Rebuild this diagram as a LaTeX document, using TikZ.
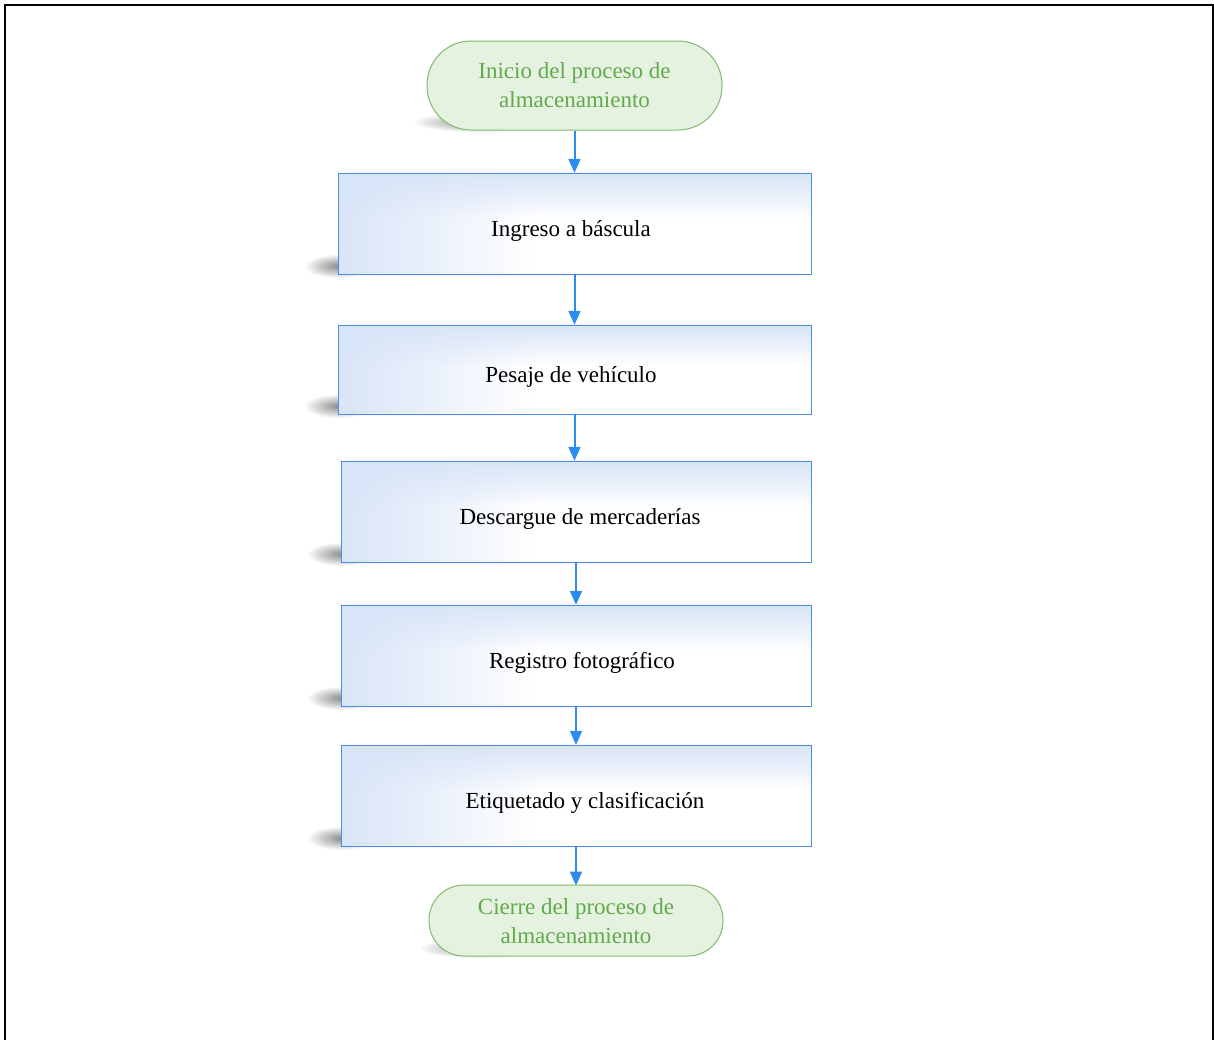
\documentclass[tikz,border=0pt]{standalone}
\usepackage{fontspec}
\setmainfont{Liberation Serif}
\usetikzlibrary{arrows.meta,fadings}
\definecolor{boxline}{RGB}{74,142,228}
\definecolor{boxblue}{RGB}{216,228,248}
\definecolor{arrowblue}{RGB}{42,140,236}
\definecolor{termfill}{RGB}{230,242,224}
\definecolor{termline}{RGB}{128,186,108}
\definecolor{termtext}{RGB}{98,170,78}
\tikzset{
  procfade/.style={fill=boxblue, path fading=south},
  termbox/.style={draw=termline, line width=1pt, fill=termfill, inner sep=0pt,
    text=termtext, align=center, font=\fontsize{23}{29}\selectfont},
  txt/.style={font=\fontsize{23}{29}\selectfont, text=black, inner sep=0pt},
  flow/.style={draw=arrowblue, line width=2pt, -{Triangle[width=12pt,length=14pt]}},
  shad/.style={inner color=black!45, outer color=white},
}
\begin{document}
\begin{tikzpicture}[x=1pt,y=-1pt]
\useasboundingbox (0,0) rectangle (1214,1039);
\fill[white] (0,0) rectangle (1214,1039);
% frame
\draw[line width=2pt] (5,1040) -- (5,5) -- (1213,5) -- (1213,1040);

% shadows
\shade[shad] (478,122) ellipse (66 and 10);
\shade[shad] (480,948) ellipse (62 and 10);
\foreach \y/\x in {266/338, 406/338, 554/341, 698/341, 838/341}{
  \shade[shad] (\x,\y) ellipse (34 and 12);
}

% terminals
\path[termbox, rounded corners=44pt] (427,41) rectangle (722,130);
\node[termbox, draw=none, fill=none, minimum width=295pt, minimum height=89pt] (t1) at (574.5,85.5) {Inicio del proceso de\\almacenamiento};
\path[termbox, rounded corners=35pt] (429,885) rectangle (723,956);
\node[termbox, draw=none, fill=none, minimum width=294pt, minimum height=71pt] (t2) at (576,921.5) {Cierre del proceso de\\almacenamiento};

% process boxes
\foreach \n/\xa/\ya/\xb/\yb in {b1/338/173/811/274, b2/338/325/811/414, b3/341/461/811/562, b4/341/605/811/706, b5/341/745/811/846}{
  \fill[white] (\xa,\ya) rectangle (\xb,\yb);
  \shade[left color=boxblue, right color=white] (\xa,\ya) rectangle ({\xa+0.42*(\xb-\xa)},\yb);
  \fill[procfade] (\xa,\ya) rectangle (\xb,{\ya+0.45*(\yb-\ya)});
  \draw[boxline, line width=1pt] (\xa,\ya) rectangle (\xb,\yb);
  \node[inner sep=0pt, minimum width={\xb-\xa}, minimum height={\yb-\ya}] (\n) at ({(\xa+\xb)/2},{(\ya+\yb)/2}) {};
}
\node[txt] (l1) at (571,231) {Ingreso a báscula};
\node[txt] (l2) at (571,377) {Pesaje de vehículo};
\node[txt] (l3) at (580,519) {Descargue de mercaderías};
\node[txt] (l4) at (582,663) {Registro fotográfico};
\node[txt] (l5) at (585,803) {Etiquetado y clasificación};

% connectors
\draw[flow] (t1.south) -- (b1.north);
\draw[flow] (b1.south) -- (b2.north);
\draw[flow] (b2.south) -- (b3.north -| b2.south);
\draw[flow] (b3.south) -- (b4.north);
\draw[flow] (b4.south) -- (b5.north);
\draw[flow] (b5.south) -- (t2.north -| b5.south);
\end{tikzpicture}
\end{document}
